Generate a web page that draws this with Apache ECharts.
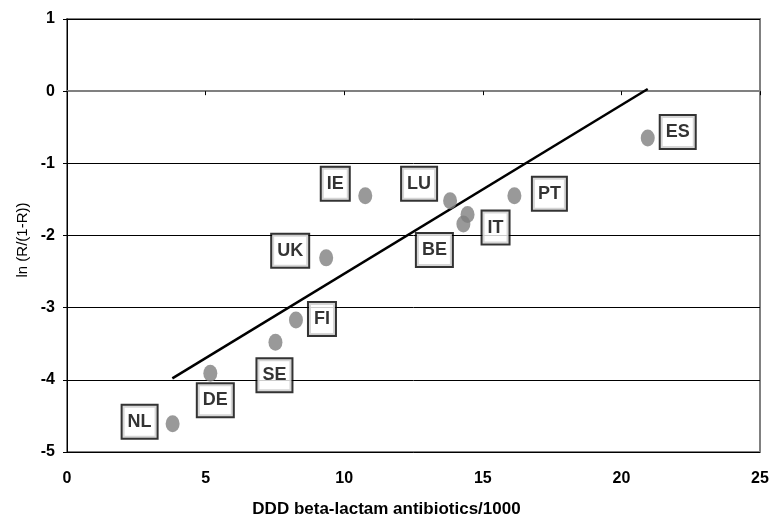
<!DOCTYPE html>
<html>
<head>
<meta charset="utf-8">
<script src="https://cdn.jsdelivr.net/npm/echarts@6/dist/echarts.min.js"></script>
<style>
  html, body { margin: 0; padding: 0; background: #fff; }
  #chart { width: 780px; height: 529px; }
</style>
</head>
<body>
<div id="chart"></div>
<script>
// countries and values
var countries = ['NL', 'DE', 'SE', 'FI', 'UK', 'IE', 'LU', 'BE', 'IT', 'PT', 'ES'];
var dddValues = [3.81, 5.17, 7.52, 8.26, 9.35, 10.76, 13.82, 14.30, 14.45, 16.14, 20.95];
var logitValues = [-4.61, -3.91, -3.48, -3.17, -2.31, -1.45, -1.52, -1.84, -1.71, -1.45, -0.65];

// regression line end points
var trendX = [3.8, 20.95];
var trendY = [-3.98, 0.03];

// label box placement relative to each dot (px)
var labelOffsets = [[-33, -2], [5, 27], [-1, 33], [26, -1], [-36, -7], [-30, -12],
                    [-31, -17], [-29, 26], [28, 13], [35, -2], [30, -6]];

var font = 'Arial, "Liberation Sans", sans-serif';

var chart = echarts.init(document.getElementById('chart'));

var pointData = countries.map(function (c, i) {
    return {
        name: c,
        value: [dddValues[i], logitValues[i]],
        label: { offset: labelOffsets[i] }
    };
});

chart.setOption({
    animation: false,
    grid: {
        left: 67,
        right: 20,
        top: 19,
        bottom: 77,
        show: true,
        borderColor: '#808080',
        borderWidth: 2
    },
    xAxis: {
        type: 'value',
        min: 0,
        max: 25,
        interval: 5,
        name: 'DDD beta-lactam antibiotics/1000',
        nameLocation: 'middle',
        nameGap: 49,
        nameTextStyle: {
            fontFamily: font,
            fontSize: 17,
            fontWeight: 'bold',
            color: '#000',
            padding: [0, 54, 0, 0]
        },
        axisLine: { lineStyle: { color: '#808080', width: 2 } },
        axisTick: { show: true, length: 4, lineStyle: { color: '#000' } },
        axisLabel: {
            margin: 19,
            fontFamily: font,
            fontSize: 16,
            fontWeight: 'bold',
            color: '#000'
        },
        splitLine: { show: false }
    },
    yAxis: {
        type: 'value',
        min: -5,
        max: 1,
        interval: 1,
        name: 'ln (R/(1-R))',
        nameLocation: 'middle',
        nameGap: 34,
        nameTextStyle: {
            fontFamily: font,
            fontSize: 15,
            color: '#000',
            padding: [0, 9, 0, 0]
        },
        axisLine: { show: true, lineStyle: { color: '#000', width: 1 } },
        axisTick: { show: true, length: 4, lineStyle: { color: '#000' } },
        axisLabel: {
            margin: 12,
            fontFamily: font,
            fontSize: 16,
            fontWeight: 'bold',
            color: '#000'
        },
        splitLine: { show: true, lineStyle: { color: '#000', width: 1 } }
    },
    series: [
        {
            name: 'trend',
            type: 'line',
            data: trendX.map(function (x, i) { return [x, trendY[i]]; }),
            symbol: 'none',
            lineStyle: { color: '#000', width: 2.5 },
            z: 3
        },
        {
            name: 'countries',
            type: 'scatter',
            data: pointData,
            symbol: 'circle',
            symbolSize: [14, 17],
            itemStyle: { color: '#808080' },
            label: {
                show: true,
                position: 'inside',
                formatter: '{b}',
                fontFamily: font,
                fontSize: 18,
                fontWeight: 'bold',
                color: '#000',
                textBorderWidth: 0,
                lineHeight: 20,
                backgroundColor: '#fff',
                borderColor: '#000',
                borderWidth: 2,
                padding: [6, 5, 6, 5]
            },
            z: 4
        }
    ]
});
</script>
</body>
</html>
